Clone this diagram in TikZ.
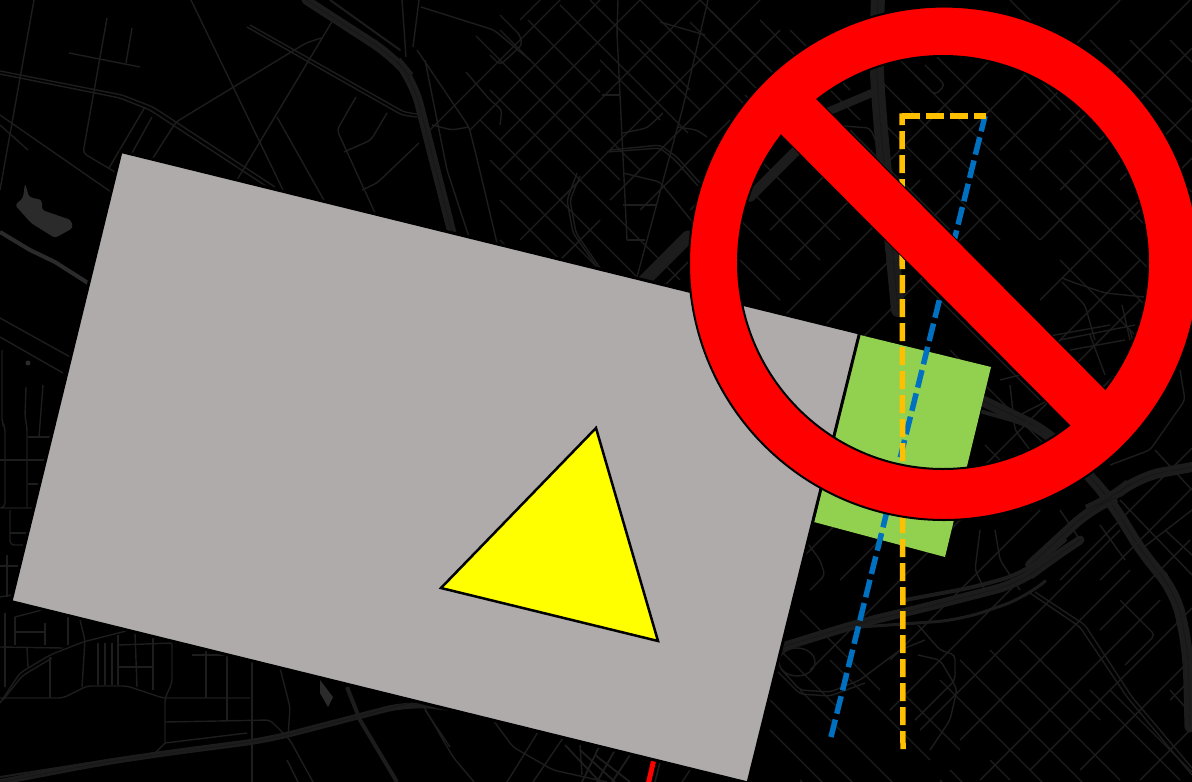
\documentclass[tikz,border=0pt]{standalone}
\definecolor{rdc}{HTML}{1D1D1D}
\definecolor{hwc}{HTML}{1C1C1C}
\definecolor{hwd}{HTML}{161616}
\definecolor{wtr}{HTML}{2B2B2B}
\definecolor{gry}{HTML}{AFABAB}
\definecolor{grn}{HTML}{92D050}
\definecolor{org}{HTML}{FFC000}
\definecolor{blu}{HTML}{0070C0}
\definecolor{yel}{HTML}{FFFF00}
\definecolor{sign}{HTML}{FF0000}
\tikzset{
 rd/.style={draw=rdc,line width=1.4pt,rounded corners=4pt},
 hw/.style={draw=hwc,line width=#1,rounded corners=25pt,line cap=round},
 hw/.default=6pt,
 hwin/.style={draw=hwd,line width=0.8pt,rounded corners=25pt},
 wat/.style={fill=wtr,draw=none},
 dashline/.style={line width=5.5pt,dash pattern=on 18pt off 6pt},
 roundel/.style={fill=sign,draw=black,line width=2pt,even odd rule}
}
\newcommand{\nwse}[1]{\foreach \c/\a/\b in {#1}{\draw[rd] (\a,{\a+\c}) -- (\b,{\b+\c});}}
\newcommand{\nesw}[1]{\foreach \s/\a/\b in {#1}{\draw[rd] (\a,{\s-\a}) -- (\b,{\s-\b});}}
\begin{document}
\begin{tikzpicture}[x=1pt,y=-1pt]
\clip (0,0) rectangle (1192,782);
\fill[black] (0,0) rectangle (1192,782);
% ---- map: north west
\draw[rd] (34,0) -- (0,190);
\draw[rd] (107,18) -- (83,153) -- (115,172);
\draw[rd] (132,28) -- (126,63);
\draw[rd] (69,53) -- (140,67);
\draw[rd] (0,71) -- (122,95) -- (153,107) -- (275,187);
\draw[rd] (0,74) -- (120,98) -- (150,110) -- (272,190);
\draw[rd] (0,115) -- (111,192);
\draw[rd] (0,125) -- (28,150);
\draw[rd] (145,107) -- (109,168);
\draw[rd] (152,117) -- (132,153);
\draw[rd] (191,0) -- (283,190);
\draw[rd] (321,38) -- (306,43) -- (176,122) -- (153,158);
\draw[rd] (333,20) -- (237,180);
\draw[rd] (277,117) -- (325,202);
\draw[rd] (247,27) -- (402,115) -- (417,117);
\draw[rd] (250,25) -- (404,112) -- (417,114);
\draw[rd] (356,97) -- (337,130) -- (375,213);
\draw[rd] (387,113) -- (371,140) -- (344,152);
\draw[rd] (419,143) -- (377,183) -- (362,190);
\draw[rd] (402,0) -- (406,57);
\draw[rd] (419,0) -- (413,47);
\draw[rd] (417,50) -- (469,127) -- (478,163) -- (497,243);
\draw[rd] (421,7) -- (494,30) -- (530,60);
\draw[rd] (432,125) -- (452,130) -- (469,127);
\draw[rd] (425,60) -- (447,170) -- (470,240);
\draw[rd] (500,15) -- (520,35) -- (522,45) -- (500,65) -- (490,55);
\draw[rd] (466,72) -- (490,100) -- (502,110) -- (500,125);
% highways NW
\draw[hw=9pt] (306,0) -- (394,57) -- (413,80) -- (452,233);
\draw[hwin] (306,0) -- (394,57) -- (413,80) -- (452,233);
\draw[hw=2pt] (330,0) -- (400,50);
% water
\draw[wat,rounded corners=3pt] (25,183) -- (29,197) -- (42,200) -- (42,210) -- (71,220) -- (73,228) -- (55,238) -- (31,223) -- (15,205) -- (23,198) -- cycle;
\draw[draw=wtr,line width=4pt] (0,232) -- (30,250) -- (55,262) -- (88,283);
% ---- map: west
\draw[rd] (0,318) -- (72,358);
\draw[rd] (0,337) -- (63,373);
\draw[rd] (2,350) -- (2,423) -- (5,427) -- (5,507) -- (0,508) -- (33,508);
\draw[rd] (26,387) -- (25,417) -- (27,427) -- (27,508);
\draw[rd] (43,385) -- (39,437);
\draw[rd] (28,437) -- (50,437);
\draw[rd] (0,460) -- (45,460);
\draw[rd] (28,484) -- (39,484);
\draw[rd] (10,510) -- (10,545) -- (25,545);
\draw[rd] (10,533) -- (27,533);
\draw[rd] (0,566) -- (18,566);
\draw[rd] (7,555) -- (7,597);
\draw[rd] (0,597) -- (12,595);
\fill[wtr] (28,363) circle (2.5pt);
% ---- map: south west
\draw[rd] (5,613) -- (5,687);
\draw[rd] (15,617) -- (15,645);
\draw[rd] (15,632) -- (45,632);
\draw[rd] (15,617) -- (42,610);
\draw[rd] (45,623) -- (45,645);
\draw[rd] (0,647) -- (63,648);
\draw[rd] (27,648) -- (28,667);
\draw[rd] (0,703) -- (20,673) -- (50,655) -- (83,642) -- (130,630);
\draw[rd] (3,700) -- (22,676) -- (52,658);
\draw[rd] (0,698) -- (63,698) -- (87,686) -- (127,686) -- (163,698) -- (250,698);
\draw[rd] (50,657) -- (50,698);
\draw[rd] (68,617) -- (68,645);
\draw[rd] (80,620) -- (85,640) -- (82,687);
\foreach \x in {98,105,112,118} \draw[rd] (\x,643) -- (\x,685);
\draw[rd] (118,635) -- (118,685);
\draw[rd] (135,633) -- (137,687);
\draw[rd] (153,637) -- (153,690);
\draw[rd] (118,645) -- (172,643);
\draw[rd] (118,667) -- (153,667);
\draw[rd] (172,643) -- (172,683) -- (165,698) -- (165,743);
\draw[rd] (192,655) -- (227,655);
\draw[rd] (206,650) -- (206,698);
\draw[rd] (227,655) -- (227,720);
\draw[rd] (165,722) -- (270,720) -- (290,740) -- (313,782);
\draw[rd] (252,662) -- (252,782);
\draw[rd] (280,668) -- (290,707) -- (288,737);
\draw[rd] (287,760) -- (298,782);
\draw[rd] (165,743) -- (247,733);
\draw[rd] (165,743) -- (155,753);
\draw[rd] (425,710) -- (450,747);
\draw[hw=6pt] (-10,784) -- (100,763) -- (167,753) -- (267,740) -- (410,703) -- (450,708);
\draw[hwin] (-10,784) -- (100,763) -- (167,753) -- (267,740) -- (410,703);
\draw[hw=2pt] (0,777) -- (120,758) -- (200,748);
\draw[draw=hwc,line width=4pt] (347,687) -- (360,720) -- (397,782);
\draw[wat] (320,680) -- (333,697) -- (328,707) -- (320,693) -- cycle;
% ---- map: south centre
\draw[rd] (420,700) -- (453,757) -- (474,782);
\draw[rd] (493,720) -- (513,747) -- (553,770) -- (607,782);
\draw[rd] (538,732) -- (507,782);
\draw[rd] (563,738) -- (533,782);
\draw[rd] (580,745) -- (582,775);
\foreach \a/\b in {600/745,615/750,630/755}{
  \draw[rd,line width=1.8pt,rounded corners=8pt] (\a,\b) -- ({\a-18},782);
  \draw[rd,line width=1.8pt,rounded corners=8pt] ({\a-35},\b) -- (\a,782);
}
\draw[rd,line width=1.6pt] (660,762) -- (655,782);
\draw[rd] (690,770) -- (682,782);
% ---- map: north centre
\draw[rd] (618,0) -- (617,33) -- (627,240);
\draw[rd] (708,0) -- (683,107) -- (637,277);
\draw[rd] (610,150) -- (660,145) -- (677,157) -- (700,183);
\draw[rd] (607,152) -- (660,148) -- (675,160) -- (698,186);
\draw[rd] (623,133) -- (647,128) -- (663,113);
\draw[rd] (577,173) -- (567,200) -- (573,233) -- (597,267);
\draw[rd] (580,176) -- (570,200) -- (576,233) -- (600,268);
\draw[rd] (677,127) -- (697,130) -- (707,137);
\draw[rd] (623,173) -- (660,182) -- (695,225);
\draw[rd] (623,205) -- (657,205);
\draw[rd] (627,240) -- (645,240);
\draw[rd] (602,95) -- (620,95);
\draw[rd] (660,22) -- (705,35);
\draw[rd] (700,0) -- (760,60);
\nwse{-508/528/600,-440/476/620,-470/500/640,-555/560/688,-590/590/700,-540/600/660,-400/490/680,-360/480/640,-330/490/610,-300/500/600,-640/640/760,-668/690/790,-700/710/800,-600/640/690,-260/500/570,-740/760/860}
\nesw{560/430/560,600/470/600,640/500/640,700/520/700,760/560/760,810/610/780,850/640/730,900/690/800,950/600/690,1000/640/720,540/520/580,670/500/600,890/520/600,820/520/600,760/520/580}
\draw[hw=13pt] (630,295) -- (688,237);
\draw[hw=10pt] (750,197) -- (797,150);
\draw[hw=8pt] (820,115) -- (872,93);
\draw[rd] (830,125) -- (870,128) -- (880,150);
\draw[rd] (870,40) -- (845,60);
\draw[hw=14pt] (878,-5) -- (876,60) -- (880,120) -- (898,310);
\draw[hwin] (878,-5) -- (876,60) -- (880,120) -- (898,310);
% ---- map: inside ring / centre
\nwse{-700/745/880,-650/745/860,-600/750/840,-560/745/820,-520/740/800,-480/740/780,-760/880/1000,-800/880/1040,-840/900/1080,-880/920/1100,-760/790/850,-720/850/950,-680/900/1010,-640/920/1040,-600/950/1070}
\nesw{950/750/830,1000/770/860,1050/790/900,1100/780/920,1150/800/960,1200/830/1000,1050/900/1020,1100/930/1060,1150/1000/1090,1200/1030/1120,1250/1060/1140}
\draw[rd] (915,75) -- (935,95) -- (945,85) -- (925,65);
% ---- map: north east
\nwse{-1000/1040/1192,-1050/1090/1192,-1090/1130/1192,-1130/1170/1192,-960/1000/1100,-1010/1010/1080,-950/960/1060,-880/1060/1170,-920/1070/1180,-840/1050/1150,-800/1060/1148}
\nesw{1120/1040/1120,1190/1060/1190,1240/1100/1192,1300/1120/1192,1350/1130/1192,1400/1150/1192,1450/1170/1192,1340/1040/1150,1280/1040/1120,1400/1040/1140,1440/1060/1140,1490/1100/1150}
\draw[rd] (1062,278) -- (1075,283) -- (1105,293) -- (1145,297);
\draw[rd] (1062,282) -- (1085,305) -- (1095,340);
\draw[rd] (1122,305) -- (1130,340);
\draw[rd] (1060,340) -- (1135,325);
% ---- map: east
\draw[rd] (1000,345) -- (1110,325);
\draw[rd] (1070,350) -- (1125,340);
\draw[rd] (1090,335) -- (1105,375);
\draw[rd] (1130,330) -- (1143,378);
\draw[rd] (1180,370) -- (1185,400) -- (1150,450) -- (1110,465);
\draw[rd] (1000,380) -- (1040,370);
\draw[rd] (1010,420) -- (1045,402);
\draw[rd] (1010,385) -- (1015,430) -- (1030,450);
\draw[rd] (985,445) -- (1000,460);
\draw[rd] (1155,450) -- (1192,490);
\draw[rd] (1120,500) -- (1192,575);
\draw[rd] (1140,550) -- (1192,510);
\draw[rd] (1165,530) -- (1192,555);
\draw[rd] (1100,525) -- (1125,560);
\draw[rd] (1060,510) -- (1080,540);
\draw[hw=11pt] (983,401) -- (1050,433) -- (1093,480) -- (1110,500) -- (1147,560) -- (1175,590) -- (1188,650) -- (1190,727);
\draw[hwin] (983,401) -- (1050,433) -- (1093,480) -- (1110,500) -- (1147,560) -- (1175,590) -- (1188,650) -- (1190,727);
\draw[hw=4pt] (983,412) -- (1030,425) -- (1060,440);
\draw[hw=10pt] (1030,565) -- (1093,507) -- (1110,500) -- (1137,477) -- (1192,467);
\draw[hwin] (1030,565) -- (1093,507) -- (1110,500) -- (1137,477) -- (1192,467);
% ---- map: south east streets
\draw[rd] (1030,593) -- (1080,627) -- (1127,697) -- (1192,775);
\draw[rd] (1035,592) -- (1085,625) -- (1132,697) -- (1192,768);
\draw[rd] (782,670) -- (800,690) -- (830,692) -- (860,680) -- (900,650) -- (925,640);
\draw[rd] (778,672) -- (800,694) -- (830,696) -- (865,683);
\draw[draw=rdc,line width=1.4pt] (797,662) ellipse [x radius=18pt,y radius=14pt];
\draw[rd] (918,625) -- (940,650) -- (955,655) -- (955,680) -- (935,700) -- (915,720);
\draw[rd] (918,655) -- (940,660) -- (952,680) -- (957,690) -- (950,720) -- (930,750);
\draw[rd] (805,540) -- (820,560) -- (825,575) -- (810,590);
\draw[rd] (980,530) -- (975,570) -- (985,590);
\draw[rd] (995,530) -- (1000,560) -- (1020,590);
\nwse{-190/800/880,-170/830/930,-130/780/840,-110/800/1000,-70/770/870,-40/770/850,-20/800/840,-210/900/960,-260/940/1080,-300/960/1120,-340/990/1120,-380/1020/1100,-300/1090/1192,-340/1130/1192,-400/1090/1180,-420/1110/1192,-180/950/1000,-230/990/1010,-160/940/990}
\nesw{1360/770/880,1480/810/1000,1420/840/950,1550/890/1040,1600/890/1060,1650/920/1120,1700/960/1130,1760/980/1160,1800/1030/1192,1850/1080/1192,1920/1140/1192,1640/1060/1192,1680/1100/1192,1500/1020/1090,1450/960/1070,1730/1100/1190}
\draw[rd] (1120,600) -- (1155,635) -- (1125,665);
\draw[rd] (1170,690) -- (1192,715);
\draw[rd] (1170,700) -- (1185,685);
\draw[hw=9pt] (782,647) -- (860,623) -- (927,607) -- (1020,583) -- (1050,560) -- (1080,540);
\draw[hwin] (782,647) -- (860,623) -- (927,607) -- (1020,583) -- (1050,560) -- (1080,540);
\draw[hw=3pt] (860,627) -- (960,620) -- (1027,597) -- (1043,583);
\draw[hw=4pt] (905,600) -- (985,585) -- (1030,570) -- (1065,540);
% ---- red line under the plate
\draw[sign,line width=5pt] (660,733) -- (648,785);
% ---- plate and shapes
\fill[grn] (860,335) -- (991,367) -- (945,557) -- (814,522) -- cycle;
\draw[fill=gry,draw=black,line width=3pt] (121,151.5) -- (859.5,333) -- (748,783) -- (11,601.5) -- cycle;
\draw[draw=black,line width=2.5pt,fill=yel,line join=miter] (596,428) -- (658,641) -- (441,588) -- cycle;
% ---- dashed outlines
\draw[dashline,blu] (831,737) -- (985,116);
\draw[dashline,org] (902,116) -- (986,116);
\draw[dashline,org] (903,749) -- (902,113.3);
% ---- prohibition sign
\draw[fill=sign,draw=black,line width=2pt] (817,100) -- (1107,392) -- (1071,426) -- (782,135) -- cycle;
\draw[roundel] (944,263.3) ellipse [x radius=255pt,y radius=256.7pt] (943,262.5) ellipse [x radius=205pt,y radius=206.5pt];
\fill[sign] (799,82) -- (1125,410) -- (1089,444) -- (764,117) -- cycle;
\end{tikzpicture}
\end{document}
